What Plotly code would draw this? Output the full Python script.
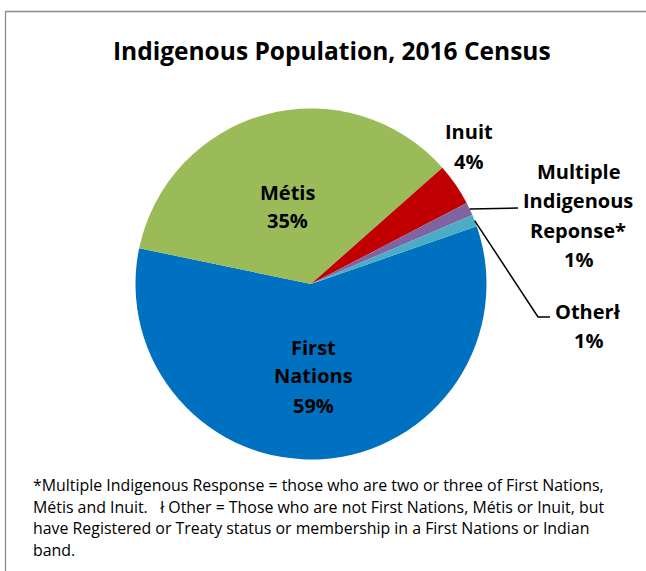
import math
import plotly.graph_objects as go

# ---- data ----
categories = ["First Nations", "Métis", "Inuit", "Multiple Indigenous Reponse*", "Otherł"]
values = [58.6, 35.2, 3.9, 1.2, 1.1]
colors = ["#0070C0", "#9BBB59", "#C00000", "#8064A2", "#4BACC6"]
label_lines = [["First", "Nations"], ["Métis"], ["Inuit"], ["Multiple", "Indigenous", "Reponse*"], ["Otherł"]]
title_text = "Indigenous Population, 2016 Census"
footnote_lines = [
    "*Multiple Indigenous Response = those who are two or three of First Nations,",
    "Métis and Inuit.   ł Other = Those who are not First Nations, Métis or Inuit, but",
    "have Registered or Treaty status or membership in a First Nations or Indian",
    "band.",
]

W, H = 646, 571
CX, CY, R = 311, 284, 175.5
ROT = 70.8
FONT = "'Open Sans', Lato, sans-serif"


def px(x):
    return x / W


def py(y):
    return 1 - y / H


total = sum(values)
pct = [round(v / total * 100) for v in values]

fig = go.Figure(go.Pie(
    labels=categories, values=values, sort=False, direction="clockwise",
    rotation=ROT, marker=dict(colors=colors, line=dict(width=0)),
    textinfo="none", showlegend=False, hoverinfo="label+percent",
    domain=dict(x=[px(CX - R), px(CX + R)], y=[py(CY + R), py(CY - R)]),
))

annotations = []


def add_text(x, y, text, size, bold=True, xanchor="center"):
    annotations.append(dict(
        x=px(x), y=py(y), xref="paper", yref="paper", text=text, showarrow=False,
        xanchor=xanchor, yanchor="middle",
        font=dict(family=FONT, size=size, color="#000000",
                  weight="bold" if bold else "normal"),
    ))


# label layout: (x center, y of first line, line spacing)
label_pos = [(313, 347, 29), (287, 192, 29), (469, 131, 30), (578, 172, 29), (588, 311, 29)]
for lines, p, (lx, ly, sp) in zip(label_lines, pct, label_pos):
    allines = lines + [f"{p}%"]
    for k, t in enumerate(allines):
        add_text(lx, ly + k * sp, t, 20)

# title
add_text(332, 51, title_text, 24.5)

# footnote
for k, t in enumerate(footnote_lines):
    add_text(31, 485 + k * 21.5, t, 15.9, bold=False, xanchor="left")

# leader lines from slice mid-angles
starts = []
acc = 0
for v in values:
    mid = ROT + (acc + v / 2) / total * 360
    a = math.radians(mid)
    starts.append((CX + R * math.sin(a), CY - R * math.cos(a)))
    acc += v

shapes = []
# Multiple Indigenous Reponse leader
sx, sy = starts[3]
shapes.append(dict(type="path", xref="paper", yref="paper",
                   path=f"M {px(sx)},{py(sy)} L {px(518)},{py(208)}",
                   line=dict(color="#000000", width=1.5)))
# Other leader
sx, sy = starts[4]
shapes.append(dict(type="path", xref="paper", yref="paper",
                   path=f"M {px(sx)},{py(sy)} L {px(538)},{py(317)} L {px(550)},{py(317)}",
                   line=dict(color="#000000", width=1.5)))
# chart area border
shapes.append(dict(type="path", xref="paper", yref="paper",
                   path=f"M {px(5.5)},{py(575)} L {px(5.5)},{py(11.5)} L {px(650)},{py(11.5)}",
                   line=dict(color="#8c8c8c", width=1.3)))

fig.update_layout(
    width=W, height=H, margin=dict(l=0, r=0, t=0, b=0),
    paper_bgcolor="#FFFFFF", plot_bgcolor="#FFFFFF",
    annotations=annotations, shapes=shapes,
)

fig.write_html("out.html", config={"displayModeBar": False},
               post_script="document.body.style.margin='0px';")
